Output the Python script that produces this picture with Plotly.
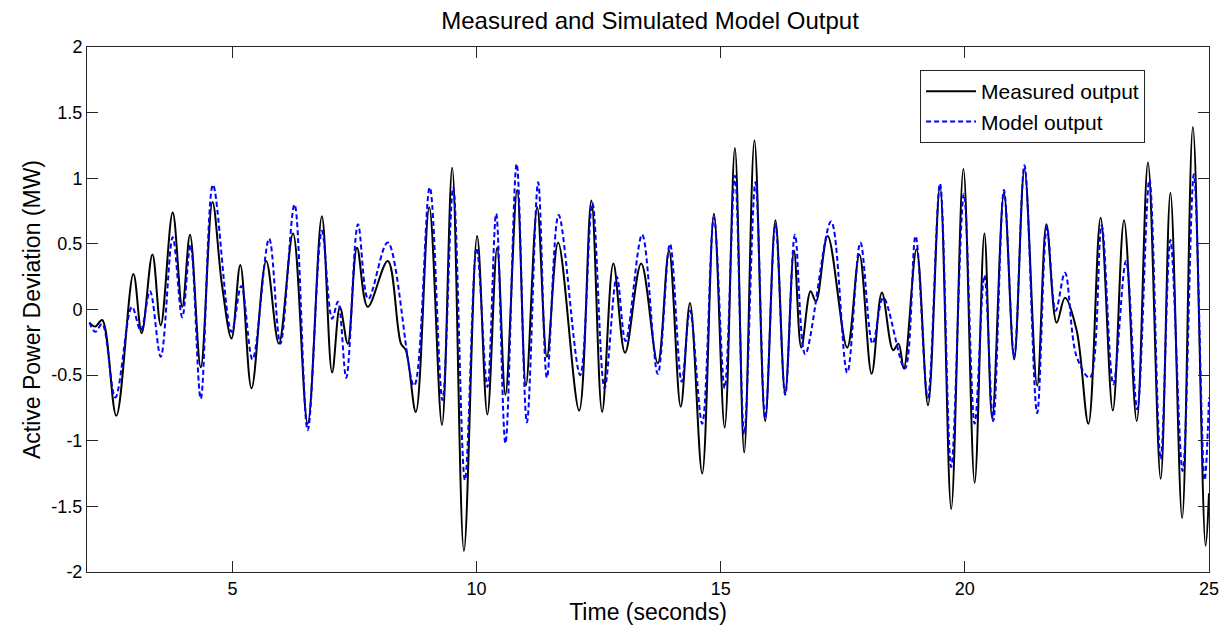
import plotly.graph_objects as go

# Measured output (time in s, active power deviation in MW)
t_measured = [2.07, 2.19, 2.33, 2.62, 2.97, 3.14, 3.36, 3.53, 3.775, 3.97, 4.13, 4.35, 4.59, 4.78, 4.98,
              5.16, 5.39, 5.69, 5.95, 6.24, 6.54, 6.83, 7.04, 7.20, 7.36, 7.55, 7.77, 8.18, 8.45, 8.55,
              8.755, 9.03, 9.29, 9.50, 9.74, 10.01, 10.22, 10.42, 10.59, 10.83, 11.01, 11.24, 11.44,
              11.67, 12.10, 12.35, 12.57, 12.80, 13.04, 13.37, 13.71, 13.94, 14.18, 14.37, 14.62,
              14.86, 15.08, 15.29, 15.48, 15.69, 15.91, 16.12, 16.32, 16.50, 16.65, 16.84, 16.95,
              17.19, 17.59, 17.84, 18.09, 18.30, 18.53, 18.64, 18.75, 19.01, 19.245, 19.49, 19.72,
              19.97, 20.20, 20.40, 20.56, 20.80, 21.01, 21.22, 21.48, 21.67, 21.88, 22.05, 22.29,
              22.53, 22.78, 23.03, 23.26, 23.52, 23.75, 24.01, 24.21, 24.45, 24.67, 24.93, 25.0]
p_measured = [-0.10, -0.13, -0.08, -0.81, 0.27, -0.18, 0.42, -0.12, 0.74, 0.02, 0.57, -0.44, 0.82, 0.20, -0.22,
              0.34, -0.60, 0.37, -0.26, 0.58, -0.87, 0.71, -0.48, 0.02, -0.26, 0.47, 0.02, 0.37, -0.26, -0.31,
              -0.78, 0.78, -0.88, 1.08, -1.84, 0.56, -0.80, 0.47, -0.65, 0.91, -0.58, 0.78, -0.36,
              0.51, -0.77, 0.83, -0.78, 0.35, -0.33, 0.35, -0.41, 0.45, -0.74, 0.05, -1.25,
              0.73, -0.90, 1.23, -1.09, 1.29, -0.85, 0.68, -0.64, 0.45, -0.29, 0.14, 0.06,
              0.56, -0.29, 0.42, -0.49, 0.13, -0.31, -0.26, -0.45, 0.46, -0.73, 0.94, -1.52,
              1.07, -1.32, 0.58, -0.83, 0.89, -0.38, 1.07, -0.58, 0.65, -0.10, 0.09, -0.16,
              -0.87, 0.70, -0.77, 0.68, -0.85, 1.12, -1.29, 0.89, -1.59, 1.39, -1.80, -1.40]

# Model output
t_model = [2.07, 2.19, 2.33, 2.60, 2.94, 3.12, 3.31, 3.53, 3.775, 3.97, 4.14, 4.35, 4.60, 4.98,
           5.18, 5.41, 5.75, 5.98, 6.27, 6.54, 6.83, 7.04, 7.16, 7.33, 7.57, 7.78, 8.18, 8.72,
           9.04, 9.30, 9.52, 9.76, 10.00, 10.22, 10.40, 10.59, 10.82, 11.03, 11.26, 11.44, 11.68,
           12.12, 12.37, 12.62, 12.87, 13.05, 13.39, 13.71, 13.96, 14.20, 14.37, 14.62, 14.86,
           15.08, 15.29, 15.48, 15.71, 15.91, 16.12, 16.32, 16.52, 16.73, 17.26, 17.59, 17.86,
           18.11, 18.33, 18.77, 18.99, 19.24, 19.49, 19.72, 19.98, 20.20, 20.40, 20.58, 20.80,
           21.01, 21.22, 21.48, 21.68, 21.86, 22.05, 22.29, 22.56, 22.80, 23.04, 23.30, 23.53,
           23.78, 24.01, 24.21, 24.46, 24.69, 24.91, 25.0]
p_model = [-0.10, -0.17, -0.11, -0.67, 0.02, -0.16, 0.14, -0.36, 0.55, -0.06, 0.49, -0.68, 0.95, -0.17,
           0.18, -0.38, 0.54, -0.26, 0.80, -0.92, 0.60, -0.07, 0.06, -0.52, 0.65, 0.08, 0.51, -0.58,
           0.93, -0.69, 0.93, -1.30, 0.47, -0.59, 0.73, -1.02, 1.11, -0.86, 0.97, -0.52, 0.72,
           -0.50, 0.81, -0.60, 0.25, -0.24, 0.57, -0.49, 0.50, -0.55, -0.01, -0.87, 0.70,
           -0.60, 1.02, -0.95, 0.97, -0.83, 0.65, -0.65, 0.57, -0.34, 0.67, -0.48, 0.51,
           -0.26, 0.09, -0.45, 0.56, -0.67, 0.96, -1.20, 0.88, -0.87, 0.26, -0.85, 0.91,
           -0.36, 1.10, -0.79, 0.63, -0.01, 0.28, -0.36, -0.52, 0.64, -0.57, 0.37, -0.76,
           0.99, -1.14, 0.53, -1.23, 1.03, -1.30, -0.67]

x_ticks = [5, 10, 15, 20, 25]
y_ticks = [-2, -1.5, -1, -0.5, 0, 0.5, 1, 1.5, 2]
y_tick_labels = ["-2", "-1.5", "-1", "-0.5", "0", "0.5", "1", "1.5", "2"]

FONT = "Liberation Sans, Arial, Helvetica, sans-serif"
AX = "#262626"

fig = go.Figure()
fig.add_trace(go.Scatter(x=t_measured, y=p_measured, mode="lines", name="Measured output",
                         line=dict(color="black", width=2, shape="spline", smoothing=1.0)))
fig.add_trace(go.Scatter(x=t_model, y=p_model, mode="lines", name="Model output",
                         line=dict(color="#0000FF", width=2, dash="5px,3px", shape="spline", smoothing=1.0)))

# page body has an 8px margin, so the figure is sized and offset to compensate
fig.update_layout(
    width=1223, height=620,
    margin=dict(l=79, r=20, t=39, b=56),
    paper_bgcolor="white", plot_bgcolor="white",
    font=dict(family=FONT, color="black", size=18),
    title=dict(text="Measured and Simulated Model Output", x=0.525, xanchor="center",
               y=0.98, yanchor="middle", font=dict(size=24, family=FONT, color="black")),
    showlegend=True,
    legend=dict(x=0.943, xanchor="right", y=0.956, yanchor="top",
                bordercolor=AX, borderwidth=1, bgcolor="white",
                font=dict(size=21, family=FONT, color="black"),
                tracegroupgap=0, itemwidth=50),
)
fig.update_xaxes(range=[2.02, 25.0], tickvals=x_ticks, ticks="inside", ticklen=11, tickcolor=AX,
                 showline=True, linecolor=AX, linewidth=1, mirror="ticks", showgrid=False,
                 zeroline=False, tickfont=dict(size=18),
                 title=dict(text="Time (seconds)", font=dict(size=23), standoff=0))
fig.update_yaxes(range=[-2, 2], tickvals=y_ticks, ticktext=y_tick_labels, ticks="inside", ticklen=11,
                 tickcolor=AX, showline=True, linecolor=AX, linewidth=1, mirror="ticks",
                 showgrid=False, zeroline=False, tickfont=dict(size=18),
                 title=dict(text="Active Power Deviation (MW)", font=dict(size=23), standoff=4))

fig.write_html("out.html")
